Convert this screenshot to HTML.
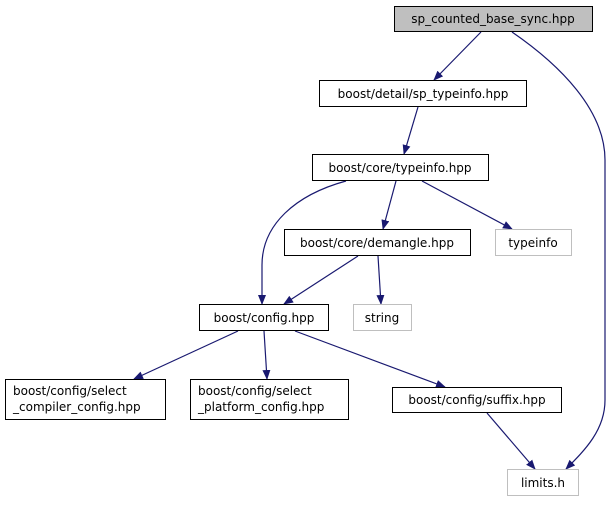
<!DOCTYPE html>
<html><head><style>
body{margin:0;background:#fff;}
svg text{font-family:"DejaVu Sans","Liberation Sans",sans-serif;font-size:12px;fill:#000;}
</style></head><body>
<svg width="615" height="500" viewBox="0 0 615 500" xmlns="http://www.w3.org/2000/svg">
<defs><marker id="a" markerWidth="10" markerHeight="8" refX="9" refY="4" orient="auto" markerUnits="userSpaceOnUse"><path d="M0,0 L10,4 L0,8 z" fill="#191970"/></marker></defs>
<g fill="none" stroke="#191970" stroke-width="1.2">
<path d="M481,32 L434,80" marker-end="url(#a)"/>
<path d="M512,32 C560,65 605,110 605,160 L605,400 C605,430 585,450 566,469" marker-end="url(#a)"/>
<path d="M418,107 L404,154" marker-end="url(#a)"/>
<path d="M346,181 C295,195 262,225 262,265 L262,304" marker-end="url(#a)"/>
<path d="M396,181 L383,229" marker-end="url(#a)"/>
<path d="M422,181 L512,229" marker-end="url(#a)"/>
<path d="M358,256 L284,304" marker-end="url(#a)"/>
<path d="M378,256 L381,304" marker-end="url(#a)"/>
<path d="M238,331 L134,379" marker-end="url(#a)"/>
<path d="M264,331 L267,379" marker-end="url(#a)"/>
<path d="M295,331 L445,387" marker-end="url(#a)"/>
<path d="M487,413 L535,469" marker-end="url(#a)"/>
</g>
<g stroke-width="1">
<rect x="394.5" y="6.5" width="198" height="25" fill="#bfbfbf" stroke="#000"/>
<rect x="319.5" y="80.5" width="207" height="26" fill="#fff" stroke="#000"/>
<rect x="312.5" y="154.5" width="176" height="26" fill="#fff" stroke="#000"/>
<rect x="284.5" y="229.5" width="186" height="26" fill="#fff" stroke="#000"/>
<rect x="495.5" y="229.5" width="76" height="26" fill="#fff" stroke="#bfbfbf"/>
<rect x="199.5" y="304.5" width="129" height="26" fill="#fff" stroke="#000"/>
<rect x="353.5" y="304.5" width="58" height="26" fill="#fff" stroke="#bfbfbf"/>
<rect x="5.5" y="379.5" width="160" height="40" fill="#fff" stroke="#000"/>
<rect x="190.5" y="379.5" width="158" height="40" fill="#fff" stroke="#000"/>
<rect x="392.5" y="387.5" width="169" height="25" fill="#fff" stroke="#000"/>
<rect x="507.5" y="469.5" width="71" height="26" fill="#fff" stroke="#bfbfbf"/>
</g>
<g text-anchor="middle">
<text x="493" y="23">sp_counted_base_sync.hpp</text>
<text x="423" y="98">boost/detail/sp_typeinfo.hpp</text>
<text x="400" y="172">boost/core/typeinfo.hpp</text>
<text x="377" y="247">boost/core/demangle.hpp</text>
<text x="533" y="247">typeinfo</text>
<text x="264" y="322">boost/config.hpp</text>
<text x="382" y="322">string</text>
<text x="477" y="404">boost/config/suffix.hpp</text>
<text x="543" y="487">limits.h</text>
</g>
<text x="13" y="395">boost/config/select</text>
<text x="13" y="411">_compiler_config.hpp</text>
<text x="198" y="395">boost/config/select</text>
<text x="198" y="411">_platform_config.hpp</text>
</svg>
</body></html>
